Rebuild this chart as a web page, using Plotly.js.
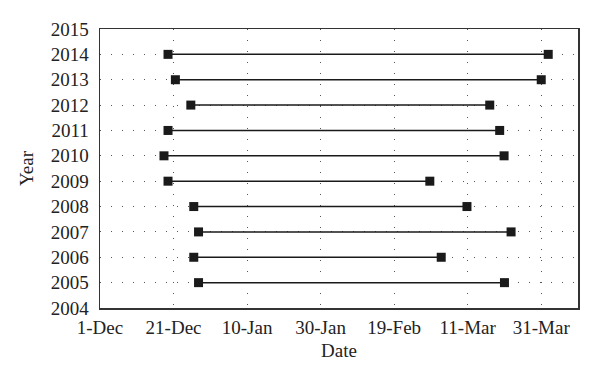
<!DOCTYPE html>
<html><head><meta charset="utf-8">
<script src="https://cdn.plot.ly/plotly-3.0.1.min.js"></script>
<style>html,body{margin:0;padding:0;background:#fff}#chart{width:600px;height:381px}</style>
</head><body><div id="chart"></div>
<script>
// Days counted from 1-Dec (non-leap season)
const years = [2005, 2006, 2007, 2008, 2009, 2010, 2011, 2012, 2013, 2014];
const startDay = [26.8, 25.5, 26.8, 25.5, 18.5, 17.4, 18.5, 24.7, 20.5, 18.5];
const endDay = [110, 92.8, 111.8, 99.8, 89.7, 109.9, 108.7, 106, 120, 121.9];
const tickDays = [0, 20, 40, 60, 80, 100, 120];
const tickLabels = ['1-Dec', '21-Dec', '10-Jan', '30-Jan', '19-Feb', '11-Mar', '31-Mar'];
const yearTicks = [2004, 2005, 2006, 2007, 2008, 2009, 2010, 2011, 2012, 2013, 2014, 2015];

const traces = years.map((y, i) => ({
  x: [startDay[i], endDay[i]],
  y: [y, y],
  type: 'scatter',
  mode: 'lines+markers',
  line: {color: '#1a1a1a', width: 1.5},
  marker: {symbol: 'square', size: 9, color: '#1a1a1a'},
  showlegend: false,
  hoverinfo: 'skip'
}));

const fam = 'Liberation Serif, DejaVu Serif, serif';
const font = {family: fam, size: 19, color: '#222'};
const layout = {
  width: 600, height: 381,
  margin: {l: 100, r: 22, t: 29, b: 73},
  paper_bgcolor: '#fff', plot_bgcolor: '#fff',
  font: font,
  showlegend: false,
  xaxis: {
    range: [0, 130], tickvals: tickDays, ticktext: tickLabels,
    showgrid: true, gridcolor: '#555', gridwidth: 1, griddash: '1px,10px',
    zeroline: false, showline: true, mirror: true, linecolor: '#333', linewidth: 1.5,
    ticks: '', tickfont: font, ticklabelstandoff: 2,
    title: {text: 'Date', font: {family: fam, size: 19, color: '#222'}, standoff: 6}
  },
  yaxis: {
    range: [2004, 2015], tickvals: yearTicks,
    showgrid: true, gridcolor: '#555', gridwidth: 1, griddash: '1px,10px',
    zeroline: false, showline: true, mirror: true, linecolor: '#333', linewidth: 1.5,
    ticks: '', tickfont: font, ticklabelstandoff: 6,
    title: {text: 'Year', font: {family: fam, size: 19, color: '#222'}, standoff: 12}
  }
};
Plotly.newPlot('chart', traces, layout, {staticPlot: true, displayModeBar: false});
</script></body></html>
